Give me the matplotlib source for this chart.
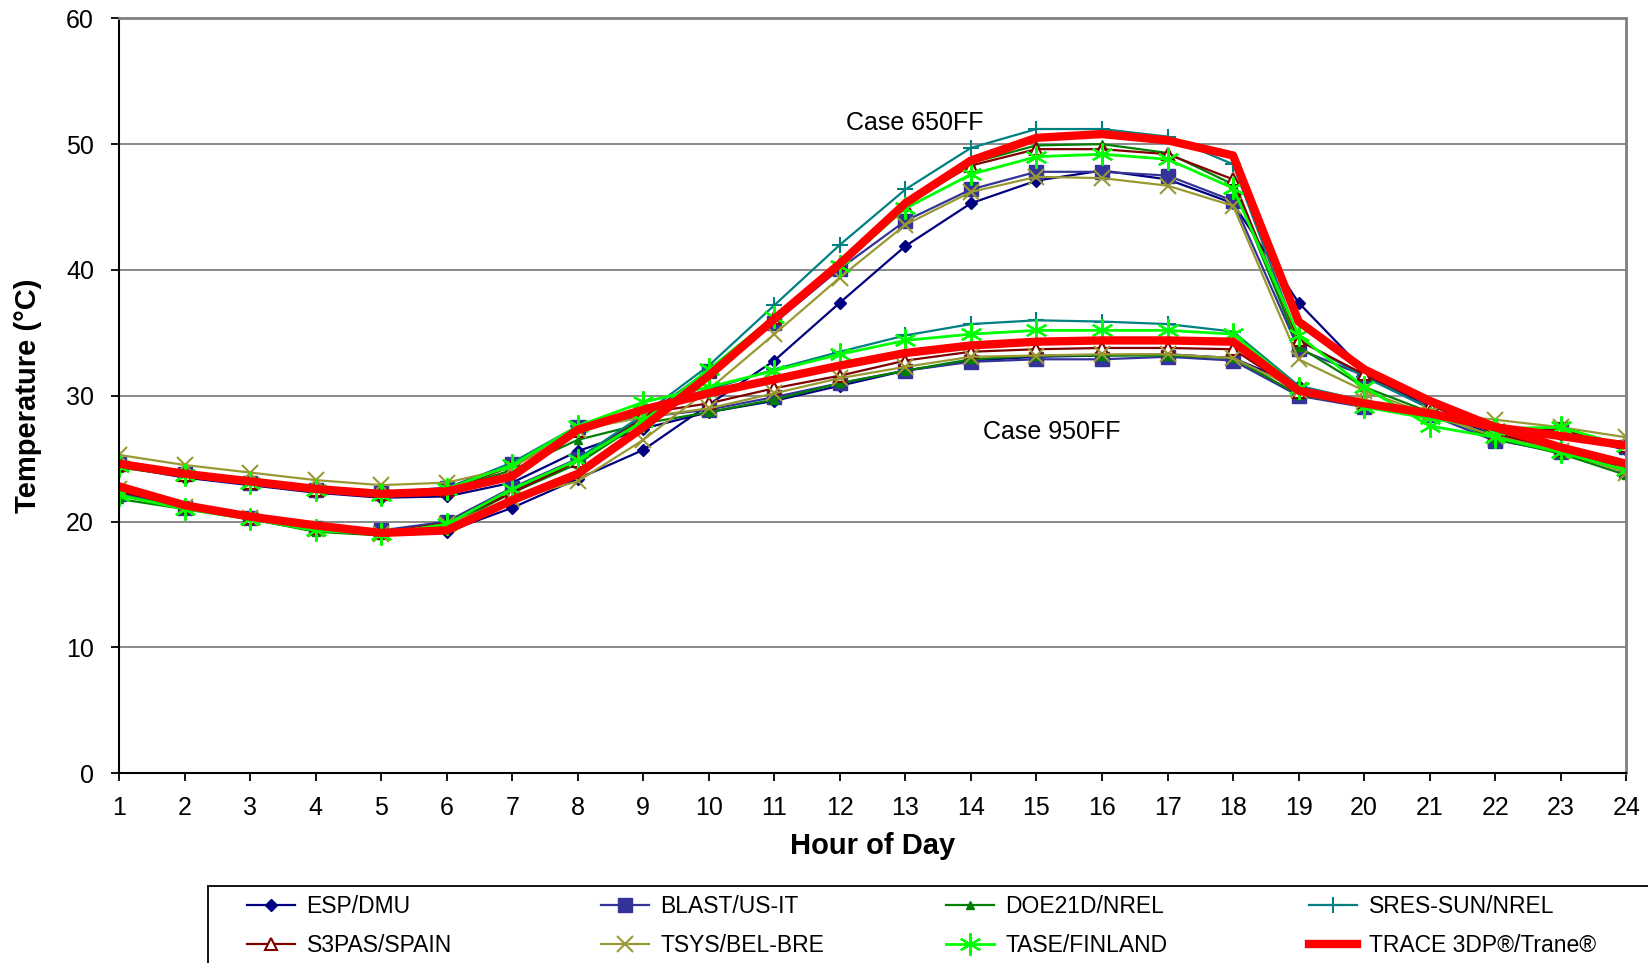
import matplotlib
matplotlib.use("Agg")
import matplotlib.pyplot as plt
from matplotlib.patches import Rectangle

plt.rcParams['font.family'] = ['Liberation Sans', 'DejaVu Sans']

hours = list(range(1, 25))

names = ['ESP/DMU', 'BLAST/US-IT', 'DOE21D/NREL', 'SRES-SUN/NREL',
         'S3PAS/SPAIN', 'TSYS/BEL-BRE', 'TASE/FINLAND', 'TRACE 3DP®/Trane®']

# Case 650FF (night ventilation, low mass)
esp_650 = [22.3, 21.1, 20.2, 19.3, 19.0, 19.2, 21.1, 23.4, 25.7, 29.3, 32.8, 37.4,
           41.9, 45.3, 47.1, 47.9, 47.2, 45.3, 37.4, 32.0, 29.0, 26.8, 25.6, 24.0]
blast_650 = [22.2, 21.1, 20.3, 19.5, 19.3, 20.0, 22.7, 25.0, 28.3, 32.0, 35.8, 40.1,
             43.9, 46.4, 47.8, 47.8, 47.5, 45.5, 33.7, 31.6, 29.0, 26.5, 25.5, 24.0]
doe_650 = [21.8, 21.0, 20.2, 19.2, 18.9, 19.6, 22.3, 24.6, 28.0, 32.0, 36.3, 40.6,
           45.3, 48.5, 49.9, 50.0, 49.3, 46.8, 33.9, 30.7, 28.7, 26.6, 25.4, 23.7]
sres_650 = [22.2, 21.1, 20.2, 19.3, 19.0, 19.8, 22.4, 25.0, 28.5, 32.4, 37.2, 42.0,
            46.4, 49.7, 51.2, 51.2, 50.6, 48.4, 34.5, 31.5, 29.0, 27.0, 25.7, 24.0]
s3pas_650 = [22.4, 21.2, 20.3, 19.5, 19.1, 19.9, 22.3, 24.8, 28.2, 32.0, 36.2, 40.5,
             45.2, 48.3, 49.6, 49.6, 49.2, 47.2, 34.4, 31.7, 29.3, 27.0, 25.7, 24.2]
tsys_650 = [22.6, 21.2, 20.3, 19.4, 19.0, 19.8, 21.8, 23.2, 26.5, 30.5, 34.9, 39.4,
            43.6, 46.2, 47.4, 47.3, 46.7, 45.1, 32.9, 30.4, 28.5, 26.8, 25.6, 23.9]
tase_650 = [22.1, 21.0, 20.2, 19.3, 19.0, 19.8, 22.6, 24.9, 28.0, 32.1, 36.3, 40.3,
            44.9, 47.6, 49.0, 49.2, 48.8, 46.5, 34.8, 30.7, 27.6, 26.7, 25.5, 24.1]
trace_650 = [22.8, 21.3, 20.4, 19.7, 19.1, 19.3, 21.7, 23.8, 27.5, 31.6, 36.1, 40.5,
             45.3, 48.7, 50.5, 50.8, 50.3, 49.1, 35.9, 32.1, 29.6, 27.5, 25.9, 24.6]

# Case 950FF (night ventilation, high mass)
esp_950 = [24.4, 23.5, 22.9, 22.3, 21.9, 22.0, 23.1, 25.6, 27.4, 28.7, 29.6, 30.8,
           32.0, 32.8, 33.1, 33.2, 33.3, 33.0, 30.8, 29.3, 28.6, 27.2, 27.0, 25.7]
blast_950 = [24.6, 23.8, 23.1, 22.5, 22.3, 22.7, 24.6, 27.5, 28.3, 28.9, 29.9, 31.0,
             32.0, 32.7, 32.9, 32.9, 33.1, 32.8, 30.0, 29.1, 28.5, 26.4, 27.4, 25.9]
doe_950 = [24.3, 23.6, 23.0, 22.4, 22.0, 22.5, 24.1, 26.5, 27.8, 28.7, 29.7, 31.0,
           32.0, 32.9, 33.2, 33.2, 33.2, 33.0, 30.1, 29.2, 28.6, 27.2, 26.9, 25.9]
sres_950 = [24.5, 23.7, 23.1, 22.5, 22.2, 22.6, 24.7, 27.6, 29.0, 30.5, 32.1, 33.5,
            34.8, 35.7, 36.0, 35.9, 35.7, 35.1, 30.8, 29.6, 28.7, 27.3, 26.8, 25.9]
s3pas_950 = [24.5, 23.7, 23.1, 22.5, 22.2, 22.5, 24.4, 27.2, 28.6, 29.4, 30.6, 31.6,
             32.8, 33.5, 33.7, 33.8, 33.8, 33.7, 30.3, 29.5, 28.7, 27.4, 27.3, 26.0]
tsys_950 = [25.3, 24.5, 23.9, 23.3, 22.9, 23.1, 24.3, 27.3, 28.3, 29.0, 30.2, 31.4,
            32.3, 33.1, 33.2, 33.3, 33.3, 33.0, 30.5, 29.6, 28.6, 28.1, 27.5, 26.7]
tase_950 = [24.4, 23.7, 23.1, 22.5, 22.1, 22.6, 24.5, 27.6, 29.5, 30.7, 32.0, 33.3,
            34.4, 34.9, 35.2, 35.2, 35.2, 34.9, 30.6, 29.1, 28.2, 27.4, 27.5, 26.0]
trace_950 = [24.6, 23.8, 23.2, 22.6, 22.2, 22.4, 23.6, 27.3, 28.9, 30.2, 31.3, 32.4,
             33.4, 34.0, 34.3, 34.4, 34.4, 34.3, 30.4, 29.4, 28.6, 27.5, 26.8, 26.05]

case650 = [esp_650, blast_650, doe_650, sres_650, s3pas_650, tsys_650, tase_650, trace_650]
case950 = [esp_950, blast_950, doe_950, sres_950, s3pas_950, tsys_950, tase_950, trace_950]

styles = [
    dict(color='#000080', marker='D', ms=6, mfc='#000080', lw=1.6),
    dict(color='#333399', marker='s', ms=10, mfc='#333399', lw=1.6),
    dict(color='#008000', marker='^', ms=6, mfc='#008000', lw=1.6),
    dict(color='#008080', marker='+', ms=12, mew=1.5, lw=1.6),
    dict(color='#800000', marker='^', ms=9, mfc='white', mew=1.5, lw=1.6),
    dict(color='#999933', marker='x', ms=12, mew=1.5, lw=1.6),
    dict(color='#00ff00', marker=(6, 2, 0), ms=16, mew=1.6, lw=2.0),
    dict(color='#ff0000', marker=None, lw=6),
]

fig = plt.figure(figsize=(16.49, 9.63), dpi=100)
ax = fig.add_axes([0.0722, 0.197, 0.914, 0.784])

handles = []
for name, y1, y2, st in zip(names, case650, case950, styles):
    h, = ax.plot(hours, y1, label=name, **st)
    ax.plot(hours, y2, **st)
    handles.append(h)

ax.set_xlim(1, 24)
ax.set_ylim(0, 60)
ax.set_xticks(hours)
ax.set_yticks(range(0, 61, 10))
ax.yaxis.grid(True, color='#808080', lw=1.3)
ax.set_axisbelow(True)
ax.tick_params(labelsize=18, length=6, width=1.3)
ax.tick_params(axis='x', pad=10)
ax.tick_params(axis='y', pad=12)

for s in ['left', 'bottom']:
    ax.spines[s].set_color('black')
    ax.spines[s].set_linewidth(1.5)
for s in ['right', 'top']:
    ax.spines[s].set_color('#808080')
    ax.spines[s].set_linewidth(2)

ax.set_xlabel('Hour of Day', fontsize=21, fontweight='bold')
ax.set_ylabel('Temperature (°C)', fontsize=21, fontweight='bold')
ax.xaxis.set_label_coords(0.5, -0.078)
ax.yaxis.set_label_coords(-0.051, 0.5)

ax.text(13.15, 51.7, 'Case 650FF', fontsize=18, ha='center', va='center')
ax.text(15.23, 27.1, 'Case 950FF', fontsize=18, ha='center', va='center')

# legend: box running off the bottom-right of the figure, 4 columns x 2 rows
fig.patches.append(Rectangle((208 / 1649, -0.05), 1.0, 0.05 + (963 - 886) / 963,
                             transform=fig.transFigure, fill=False,
                             edgecolor='black', lw=1.3))
col_x = [247, 601, 946, 1309]
for j, x in enumerate(col_x):
    fig.legend([handles[j], handles[j + 4]], [names[j], names[j + 4]],
               loc='upper left', bbox_to_anchor=(x / 1649, 1 - 895 / 963),
               frameon=False, fontsize=16.5, borderpad=0, borderaxespad=0,
               handlelength=2.1, handletextpad=0.5, labelspacing=0.72)

fig.savefig('out.png', dpi=100)
